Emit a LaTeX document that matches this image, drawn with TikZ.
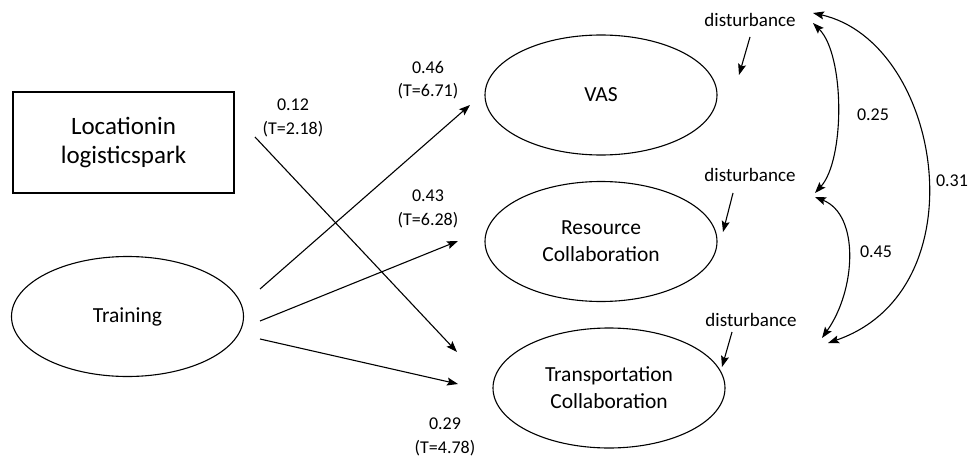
\documentclass[tikz,border=0pt]{standalone}
\usepackage{fontspec}
\setmainfont{Carlito}
\usetikzlibrary{shapes.geometric,arrows.meta}
\begin{document}
\begin{tikzpicture}[x=1pt,y=-1pt,
  line width=1.1pt,
  latent/.style={draw,ellipse,minimum width=232pt,minimum height=120pt,inner sep=0pt,align=center,font=\fontsize{21.5}{27}\selectfont},
  observed/.style={draw,rectangle,minimum width=221pt,minimum height=101pt,inner sep=0pt,align=center,font=\fontsize{25}{29.5}\selectfont},
  lbl/.style={align=center,inner sep=0pt,font=\fontsize{18}{23.5}\selectfont},
  dist/.style={inner sep=0pt,font=\fontsize{19}{22}\selectfont},
  arr/.style={-{Stealth[length=11pt,width=8pt,inset=2pt]}},
  darr/.style={{Stealth[length=11pt,width=8pt,inset=2pt]}-{Stealth[length=11pt,width=8pt,inset=2pt]}}
]
\useasboundingbox (0,0) rectangle (974,460);

\node[observed] (loc) at (123.5,142.5) {Locationin\\logisticspark};
\node[latent] (train) at (127.5,316.5) {Training};
\node[latent] (vas) at (601,95) {VAS};
\node[latent] (res) at (601,241.5) {Resource\\Collaboration};
\node[latent] (trans) at (609,388) {Transportation\\Collaboration};

\node[dist] (d1) at (750,20) {disturbance};
\node[dist] (d2) at (750,175) {disturbance};
\node[dist] (d3) at (751,320) {disturbance};

% path endpoints
\coordinate (locS) at (255,137);
\coordinate (locE) at (457,352);
\coordinate (tvS) at (260,289);
\coordinate (tvE) at (470,105);
\coordinate (trS) at (260,321);
\coordinate (trE) at (458,241);
\coordinate (ttS) at (260,339);
\coordinate (ttE) at (458,384);

\draw[arr] (locS) -- (locE);
\draw[arr] (tvS) -- (tvE);
\draw[arr] (trS) -- (trE);
\draw[arr] (ttS) -- (ttE);

\node[lbl] (l12) at (293,118) {0.12\\(T=2.18)};
\node[lbl] (l46) at (428,80) {0.46\\(T=6.71)};
\node[lbl] (l43) at (428,209) {0.43\\(T=6.28)};
\node[lbl] (l29) at (445,437) {0.29\\(T=4.78)};

% disturbance arrows
\coordinate (d1S) at (750,37);
\coordinate (d1E) at (739,75);
\coordinate (d2S) at (733,193);
\coordinate (d2E) at (723,232);
\coordinate (d3S) at (732,332);
\coordinate (d3E) at (722,367);
\draw[arr] (d1S) -- (d1E);
\draw[arr] (d2S) -- (d2E);
\draw[arr] (d3S) -- (d3E);

% covariances
\coordinate (c1a) at (813,23);
\coordinate (c1b) at (815,193);
\coordinate (c2a) at (815,197);
\coordinate (c2b) at (822,338);
\coordinate (c3a) at (813,13);
\coordinate (c3b) at (828,343);
\draw[darr] (c1a) .. controls (845,55) and (845,160) .. (c1b);
\draw[darr] (c2a) .. controls (860,215) and (856,290) .. (c2b);
\draw[darr] (c3a) .. controls (942,42) and (982,290) .. (c3b);

\node[lbl] (l25) at (873,115) {0.25};
\node[lbl] (l45) at (876,252) {0.45};
\node[lbl] (l31) at (952,181) {0.31};
\end{tikzpicture}
\end{document}
